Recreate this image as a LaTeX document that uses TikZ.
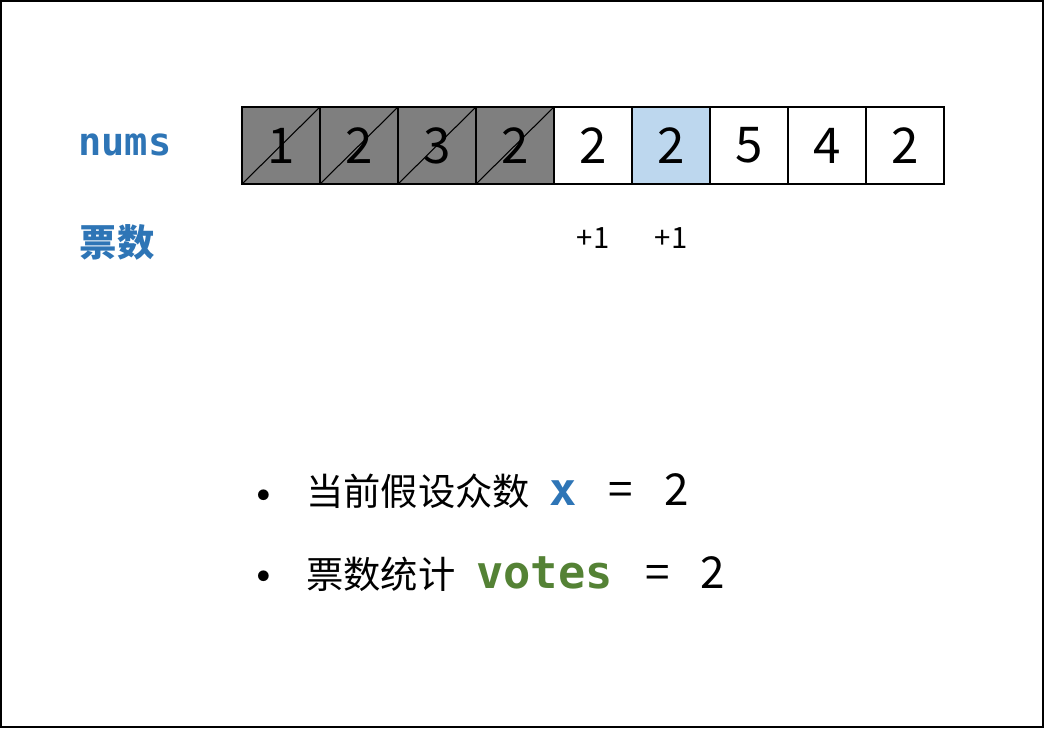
\documentclass[tikz,border=0pt]{standalone}
\usepackage{fontspec}
\setmainfont{Noto Sans CJK SC}
\setmonofont{DejaVu Sans Mono}
\usetikzlibrary{positioning}
\definecolor{varblue}{HTML}{2E75B6}
\definecolor{vargreen}{HTML}{548235}
\definecolor{curblue}{HTML}{BDD7EE}
\definecolor{dropgray}{HTML}{7F7F7F}
\tikzstyle{cell} = [rectangle, draw=black, line width=1.2pt, minimum width=58.5pt, minimum height=57.75pt, inner sep=0pt, outer sep=0pt, font=\fontsize{37}{37}\selectfont]
\tikzstyle{done} = [cell, fill=dropgray]
\tikzstyle{cur} = [cell, fill=curblue]
\tikzstyle{plus} = [inner sep=0pt, font=\fontsize{22}{22}\selectfont]
\tikzstyle{rowlabel} = [inner sep=0pt, text=varblue, font=\fontsize{28}{28}\selectfont\bfseries]
\tikzstyle{line} = [inner sep=0pt, anchor=base west, font=\fontsize{28}{28}\selectfont]
\tikzstyle{num} = [line, font=\fontsize{33}{33}\selectfont]
\tikzstyle{code} = [line, font=\fontsize{34}{34}\selectfont\ttfamily\bfseries]
\tikzstyle{dot} = [inner sep=0pt, font=\fontsize{38}{38}\selectfont]
\tikzstyle{slash} = [line width=0.8pt]
\begin{document}
\begin{tikzpicture}[x=0.75pt,y=-0.75pt]
	\useasboundingbox (0,0) rectangle (1044,728);
	\draw [line width=1.5pt] (1,1) rectangle (1043,727);
	% array
	\node (c1) [done] at (281,145.5) {1};
	\node (c2) [done, right=0pt of c1] {2};
	\node (c3) [done, right=0pt of c2] {3};
	\node (c4) [done, right=0pt of c3] {2};
	\node (c5) [cell, right=0pt of c4] {2};
	\node (c6) [cur, right=0pt of c5] {2};
	\node (c7) [cell, right=0pt of c6] {5};
	\node (c8) [cell, right=0pt of c7] {4};
	\node (c9) [cell, right=0pt of c8] {2};
	\draw [slash] (c1.south west) -- (c1.north east);
	\draw [slash] (c2.south west) -- (c2.north east);
	\draw [slash] (c3.south west) -- (c3.north east);
	\draw [slash] (c4.south west) -- (c4.north east);
	% votes
	\node (p5) [plus] at (593,238) {+1};
	\node (p6) [plus] at (671,238) {+1};
	% labels
	\node (lnums) [rowlabel, font=\fontsize{29}{29}\selectfont\ttfamily\bfseries] at (125,145) {nums};
	\node (lvotes) [rowlabel] at (117,242) {票数};
	% summary
	\node (b1) [dot] at (264,502) {•};
	\node (t1) [line] at (306,505) {当前假设众数};
	\node (x1) [code, text=varblue] at (549,505) {x};
	\node (e1) [num] at (608,505) {=};
	\node (n1) [num] at (664,505) {2};
	\node (b2) [dot] at (264,583) {•};
	\node (t2) [line] at (306,588) {票数统计};
	\node (v2) [code, text=vargreen] at (476,588) {votes};
	\node (e2) [num] at (645,588) {=};
	\node (n2) [num] at (700,588) {2};
\end{tikzpicture}
\end{document}
